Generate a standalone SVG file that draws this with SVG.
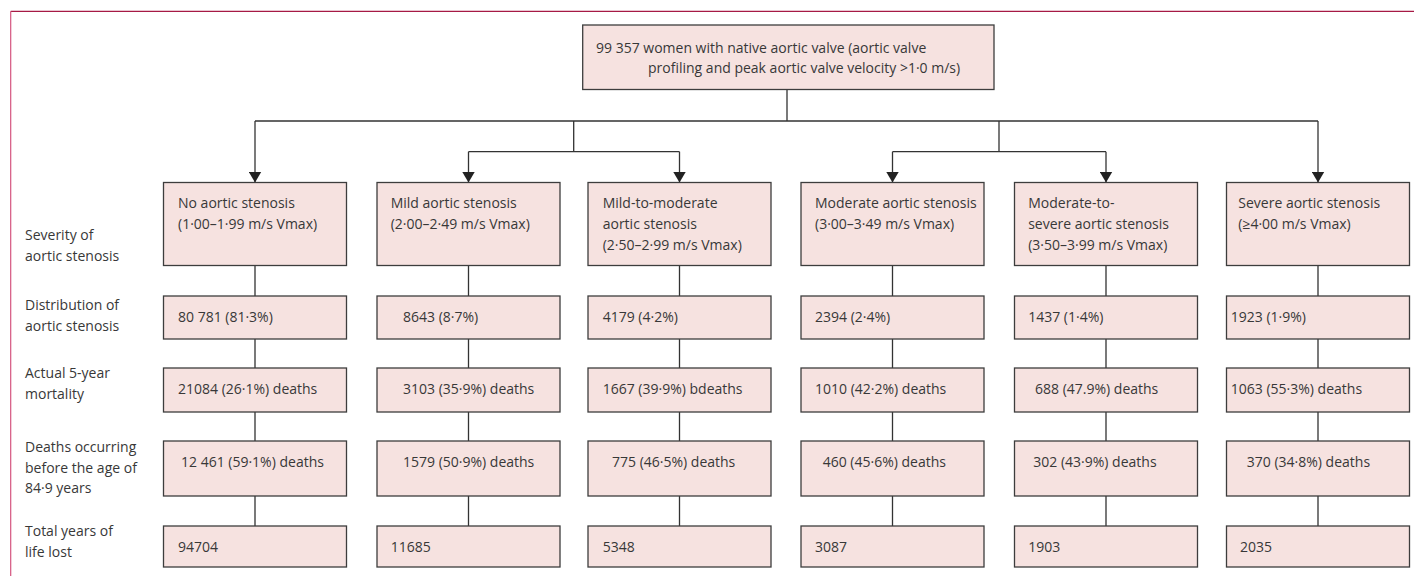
<svg xmlns="http://www.w3.org/2000/svg" width="1414" height="576" viewBox="0 0 1414 576">
<defs>
<style>
.box{fill:#f6e2e0;stroke:#3d3d3d;stroke-width:1.3}
.t{font-family:"Open Sans","Liberation Sans",sans-serif;font-size:14px;fill:#383838}
.c{fill:none;stroke:#333;stroke-width:1.3}
</style>
<marker id="arr" markerUnits="userSpaceOnUse" markerWidth="11" markerHeight="13" refX="11" refY="6.5" orient="auto" viewBox="0 0 11 13">
<path d="M0,0 L11,6.5 L0,13 z" fill="#222"/>
</marker>
</defs>
<rect width="1414" height="576" fill="#fff"/>
<g id="frame">
<line x1="10.7" y1="11.3" x2="1414" y2="11.3" stroke="#a61a45" stroke-width="1.3"/>
<line x1="10.7" y1="11.3" x2="10.7" y2="576" stroke="#d4557f" stroke-width="1.2"/>
</g>
<g id="labels" class="t">
<text x="25" y="240">Severity of</text>
<text x="25" y="261">aortic stenosis</text>
<text x="25" y="310">Distribution of</text>
<text x="25" y="331">aortic stenosis</text>
<text x="25" y="378">Actual 5-year</text>
<text x="25" y="399">mortality</text>
<text x="25" y="452">Deaths occurring</text>
<text x="25" y="472.5">before the age of</text>
<text x="25" y="493">84·9 years</text>
<text x="25" y="536">Total years of</text>
<text x="25" y="557">life lost</text>
</g>
<g id="connectors">
<path class="c" d="M787,89.5 V121 M255,121 H1318 M573.7,121 V151.7 M468.5,151.7 H679.5 M999,121 V151.7 M892.5,151.7 H1106"/>
<path class="c" marker-end="url(#arr)" d="M255,121 V182.5"/>
<path class="c" marker-end="url(#arr)" d="M468.5,151.7 V182.5"/>
<path class="c" marker-end="url(#arr)" d="M679.5,151.7 V182.5"/>
<path class="c" marker-end="url(#arr)" d="M892.5,151.7 V182.5"/>
<path class="c" marker-end="url(#arr)" d="M1106,151.7 V182.5"/>
<path class="c" marker-end="url(#arr)" d="M1318,121 V182.5"/>
<path class="c" d="M255,265.5 V296 M255,339 V368 M255,412 V441 M255,496 V526"/>
<path class="c" d="M468.5,265.5 V296 M468.5,339 V368 M468.5,412 V441 M468.5,496 V526"/>
<path class="c" d="M679.5,265.5 V296 M679.5,339 V368 M679.5,412 V441 M679.5,496 V526"/>
<path class="c" d="M892.5,265.5 V296 M892.5,339 V368 M892.5,412 V441 M892.5,496 V526"/>
<path class="c" d="M1106,265.5 V296 M1106,339 V368 M1106,412 V441 M1106,496 V526"/>
<path class="c" d="M1318,265.5 V296 M1318,339 V368 M1318,412 V441 M1318,496 V526"/>
</g>
<g id="root">
<rect class="box" x="582.7" y="25" width="411.3" height="64.5"/>
<text class="t" x="596" y="52.5">99 357 women with native aortic valve (aortic valve</text>
<text class="t" x="648" y="73">profiling and peak aortic valve velocity &gt;1·0 m/s)</text>
</g>
<g id="col1">
<g id="n1-sev"><rect class="box" x="163.5" y="182.5" width="183" height="83"/><text class="t" x="178" y="207.5">No aortic stenosis</text><text class="t" x="178" y="228.5">(1·00–1·99 m/s Vmax)</text></g>
<g id="n1-dist"><rect class="box" x="163.5" y="296" width="183" height="43"/><text class="t" x="178" y="321.5">80 781 (81·3%)</text></g>
<g id="n1-mort"><rect class="box" x="163.5" y="368" width="183" height="44"/><text class="t" x="178" y="394">21084 (26·1%) deaths</text></g>
<g id="n1-death"><rect class="box" x="163.5" y="441" width="183" height="55"/><text class="t" x="181" y="466.5">12 461 (59·1%) deaths</text></g>
<g id="n1-yll"><rect class="box" x="163.5" y="526" width="183" height="41"/><text class="t" x="178" y="551.5">94704</text></g>
</g>
<g id="col2">
<g id="n2-sev"><rect class="box" x="377" y="182.5" width="183" height="83"/><text class="t" x="390.7" y="207.5">Mild aortic stenosis</text><text class="t" x="390.7" y="228.5">(2·00–2·49 m/s Vmax)</text></g>
<g id="n2-dist"><rect class="box" x="377" y="296" width="183" height="43"/><text class="t" x="403" y="321.5">8643 (8·7%)</text></g>
<g id="n2-mort"><rect class="box" x="377" y="368" width="183" height="44"/><text class="t" x="403" y="394">3103 (35·9%) deaths</text></g>
<g id="n2-death"><rect class="box" x="377" y="441" width="183" height="55"/><text class="t" x="403" y="466.5">1579 (50·9%) deaths</text></g>
<g id="n2-yll"><rect class="box" x="377" y="526" width="183" height="41"/><text class="t" x="390.7" y="551.5">11685</text></g>
</g>
<g id="col3">
<g id="n3-sev"><rect class="box" x="588" y="182.5" width="183" height="83"/><text class="t" x="602.7" y="207.5">Mild-to-moderate</text><text class="t" x="602.7" y="228.5">aortic stenosis</text><text class="t" x="602.7" y="249.5">(2·50–2·99 m/s Vmax)</text></g>
<g id="n3-dist"><rect class="box" x="588" y="296" width="183" height="43"/><text class="t" x="602.7" y="321.5">4179 (4·2%)</text></g>
<g id="n3-mort"><rect class="box" x="588" y="368" width="183" height="44"/><text class="t" x="602.7" y="394">1667 (39·9%) bdeaths</text></g>
<g id="n3-death"><rect class="box" x="588" y="441" width="183" height="55"/><text class="t" x="612" y="466.5">775 (46·5%) deaths</text></g>
<g id="n3-yll"><rect class="box" x="588" y="526" width="183" height="41"/><text class="t" x="602.7" y="551.5">5348</text></g>
</g>
<g id="col4">
<g id="n4-sev"><rect class="box" x="801" y="182.5" width="183" height="83"/><text class="t" x="815" y="207.5">Moderate aortic stenosis</text><text class="t" x="815" y="228.5">(3·00–3·49 m/s Vmax)</text></g>
<g id="n4-dist"><rect class="box" x="801" y="296" width="183" height="43"/><text class="t" x="815" y="321.5">2394 (2·4%)</text></g>
<g id="n4-mort"><rect class="box" x="801" y="368" width="183" height="44"/><text class="t" x="815" y="394">1010 (42·2%) deaths</text></g>
<g id="n4-death"><rect class="box" x="801" y="441" width="183" height="55"/><text class="t" x="822.7" y="466.5">460 (45·6%) deaths</text></g>
<g id="n4-yll"><rect class="box" x="801" y="526" width="183" height="41"/><text class="t" x="815" y="551.5">3087</text></g>
</g>
<g id="col5">
<g id="n5-sev"><rect class="box" x="1014.5" y="182.5" width="183" height="83"/><text class="t" x="1028.2" y="207.5">Moderate-to-</text><text class="t" x="1028.2" y="228.5">severe aortic stenosis</text><text class="t" x="1028.2" y="249.5">(3·50–3·99 m/s Vmax)</text></g>
<g id="n5-dist"><rect class="box" x="1014.5" y="296" width="183" height="43"/><text class="t" x="1028.2" y="321.5">1437 (1·4%)</text></g>
<g id="n5-mort"><rect class="box" x="1014.5" y="368" width="183" height="44"/><text class="t" x="1035" y="394">688 (47.9%) deaths</text></g>
<g id="n5-death"><rect class="box" x="1014.5" y="441" width="183" height="55"/><text class="t" x="1033.3" y="466.5">302 (43·9%) deaths</text></g>
<g id="n5-yll"><rect class="box" x="1014.5" y="526" width="183" height="41"/><text class="t" x="1028.2" y="551.5">1903</text></g>
</g>
<g id="col6">
<g id="n6-sev"><rect class="box" x="1226.5" y="182.5" width="183" height="83"/><text class="t" x="1238.3" y="207.5">Severe aortic stenosis</text><text class="t" x="1238.3" y="228.5">(≥4·00 m/s Vmax)</text></g>
<g id="n6-dist"><rect class="box" x="1226.5" y="296" width="183" height="43"/><text class="t" x="1230.8" y="321.5">1923 (1·9%)</text></g>
<g id="n6-mort"><rect class="box" x="1226.5" y="368" width="183" height="44"/><text class="t" x="1230.8" y="394">1063 (55·3%) deaths</text></g>
<g id="n6-death"><rect class="box" x="1226.5" y="441" width="183" height="55"/><text class="t" x="1246.8" y="466.5">370 (34·8%) deaths</text></g>
<g id="n6-yll"><rect class="box" x="1226.5" y="526" width="183" height="41"/><text class="t" x="1240" y="551.5">2035</text></g>
</g>
</svg>
